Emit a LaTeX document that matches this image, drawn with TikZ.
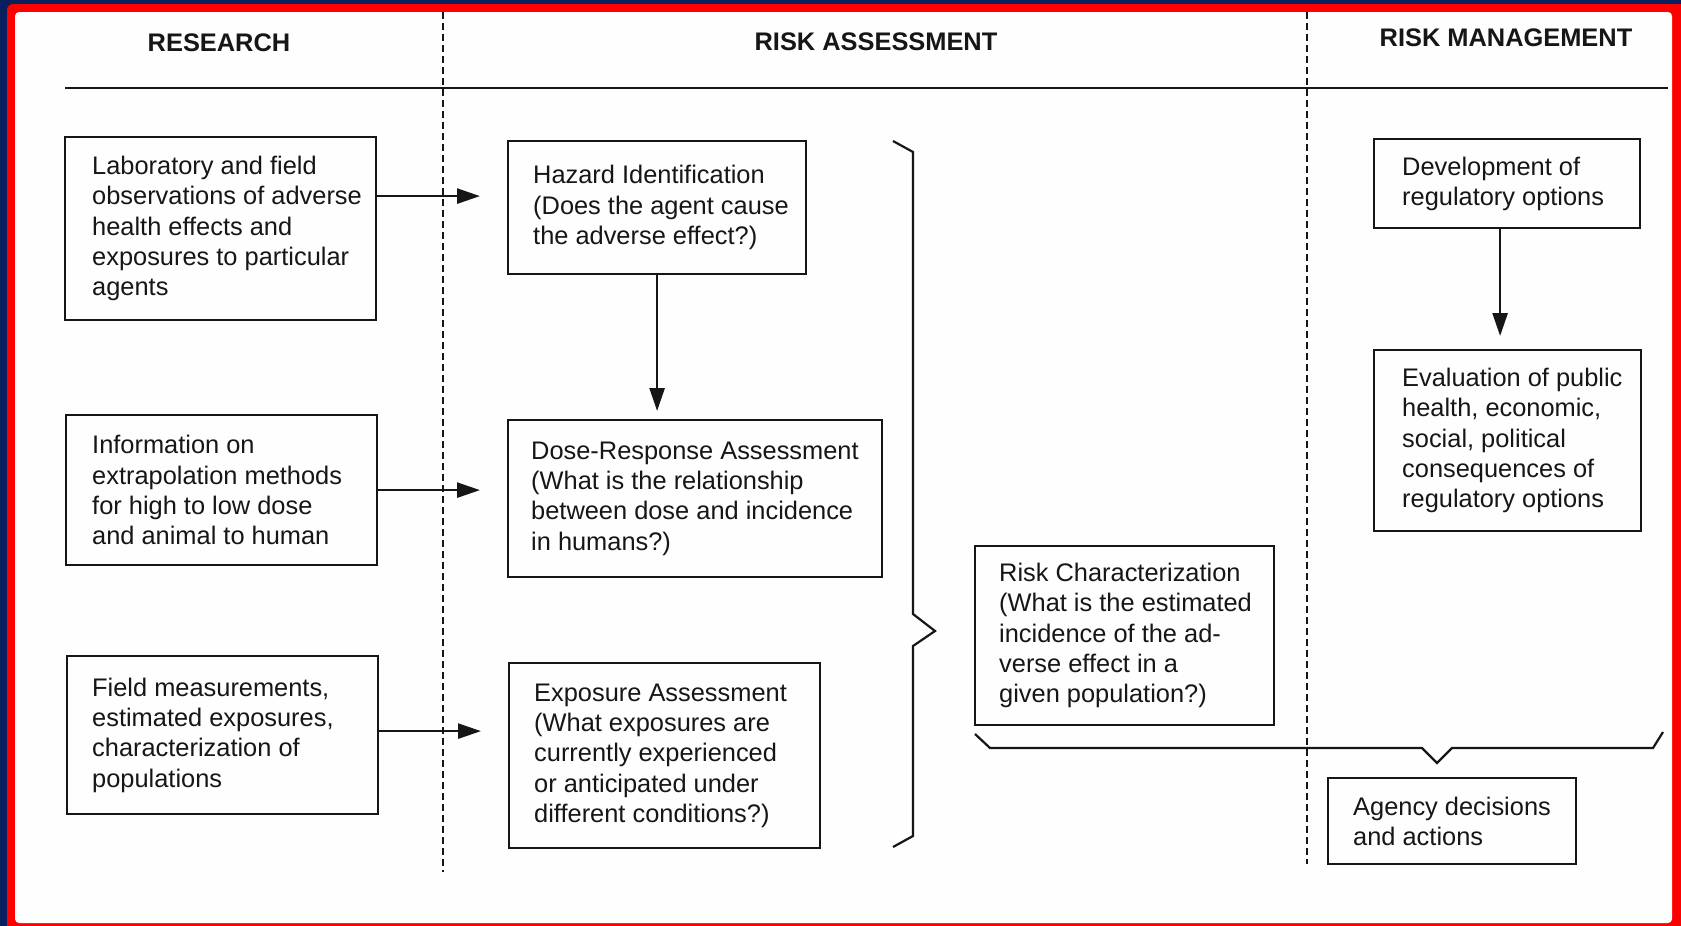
\documentclass[tikz,border=0pt]{standalone}
\usepackage{fontspec}
\setmainfont{Liberation Sans}
\usetikzlibrary{arrows.meta,calc}

\definecolor{edgenavy}{HTML}{0A1F5E}
\definecolor{edgered}{HTML}{FF0000}
\definecolor{ink}{HTML}{161616}
\definecolor{paper}{HTML}{FEFEFE}

\begin{document}
\begin{tikzpicture}[x=1pt,y=-1pt,
  box/.style={draw=ink, line width=2.2pt, rectangle, inner sep=0pt, anchor=north west},
  txt/.style={text=ink, align=left, anchor=west, inner sep=0pt,
              font=\fontsize{25.4}{30.3}\selectfont},
  head/.style={text=ink, inner sep=0pt, font=\fontsize{25.4}{30}\selectfont\bfseries},
  arr/.style={draw=ink, line width=2.6pt, -{Triangle[length=23pt,width=15pt]}},
  lane/.style={draw=ink, line width=2pt, dash pattern=on 7pt off 4pt},
  brace/.style={draw=ink, line width=2.2pt, line join=miter}]

% page frame
\useasboundingbox (0,0) rectangle (1681,926);
\clip (0,0) rectangle (1681,926);
\fill[edgenavy] (0,0) rectangle (1681,926);
\fill[edgered, rounded corners=6pt] (7,4) rectangle (1700,945);
\fill[paper, rounded corners=4pt] (15,12) rectangle (1672,923);

% column headings and rule
\node[head] (hres) at (219,43) {RESEARCH};
\node[head] (hass) at (876,42) {RISK ASSESSMENT};
\node[head] (hman) at (1506,38) {RISK MANAGEMENT};
\draw[draw=ink, line width=2pt] (65,88) -- (1668,88);

% lane separators
\draw[lane] (443,12) -- (443,872);
\draw[lane] (1307,12) -- (1307,864);

% research boxes
\node[box, minimum width=311pt, minimum height=183pt] (b1) at (64,136) {};
\node[txt] (t1) at ($(b1.west)+(28,0)$) {Laboratory and field\\observations of adverse\\health effects and\\exposures to particular\\agents};
\node[box, minimum width=311pt, minimum height=150pt] (b2) at (65,414) {};
\node[txt] (t2) at ($(b2.west)+(27,0)$) {Information on\\extrapolation methods\\for high to low dose\\and animal to human};
\node[box, minimum width=311pt, minimum height=158pt] (b3) at (66,655) {};
\node[txt] (t3) at ($(b3.west)+(26,0)$) {Field measurements,\\estimated exposures,\\characterization of\\populations};

% risk assessment boxes
\node[box, minimum width=298pt, minimum height=133pt] (hz) at (507,140) {};
\node[txt] (thz) at ($(hz.west)+(26,0)$) {Hazard Identification\\(Does the agent cause\\the adverse effect?)};
\node[box, minimum width=374pt, minimum height=157pt] (dose) at (507,419) {};
\node[txt] (tdose) at ($(dose.west)+(24,0)$) {Dose-Response Assessment\\(What is the relationship\\between dose and incidence\\in humans?)};
\node[box, minimum width=311pt, minimum height=185pt] (exp) at (508,662) {};
\node[txt] (texp) at ($(exp.west)+(26,0)$) {Exposure Assessment\\(What exposures are\\currently experienced\\or anticipated under\\different conditions?)};
\node[box, minimum width=299pt, minimum height=179pt] (rc) at (974,545) {};
\node[txt] (trc) at ($(rc.west)+(25,0)$) {Risk Characterization\\(What is the estimated\\incidence of the ad-\\verse effect in a\\given population?)};

% risk management boxes
\node[box, minimum width=266pt, minimum height=89pt] (dev) at (1373,138) {};
\node[txt] (tdev) at ($(dev.west)+(29,0)$) {Development of\\regulatory options};
\node[box, minimum width=267pt, minimum height=181pt] (ev) at (1373,349) {};
\node[txt] (tev) at ($(ev.west)+(29,0)$) {Evaluation of public\\health, economic,\\social, political\\consequences of\\regulatory options};
\node[box, minimum width=248pt, minimum height=86pt] (ag) at (1327,777) {};
\node[txt] (tag) at ($(ag.west)+(26,0)$) {Agency decisions\\and actions};

% flow arrows
\draw[arr] ($(b1.east)+(0,-32.5)$) -- ($(b1.east -| hz.west)+(-27,-32.5)$);
\draw[arr] (b2.east) -- ($(b2.east -| dose.west)+(-27,0)$);
\draw[arr] ($(b3.east)+(0,-4)$) -- ($(b3.east -| exp.west)+(-27,-4)$);
\draw[arr] (hz.south) -- ($(hz.south |- dose.north)+(0,-8)$);
\draw[arr] ($(dev.south)+(-7,0)$) -- ($(dev.south |- ev.north)+(-7,-13)$);

% braces gathering the assessment steps
\draw[brace] (893,141) -- (913,152) -- (913,614) -- (935,631) -- (913,646) -- (913,836) -- (893,847);
\draw[brace] (975,734) -- (990,748) -- (1422,748) -- (1437,763) -- (1452,748) -- (1653,748) -- (1663,732);

\end{tikzpicture}
\end{document}
